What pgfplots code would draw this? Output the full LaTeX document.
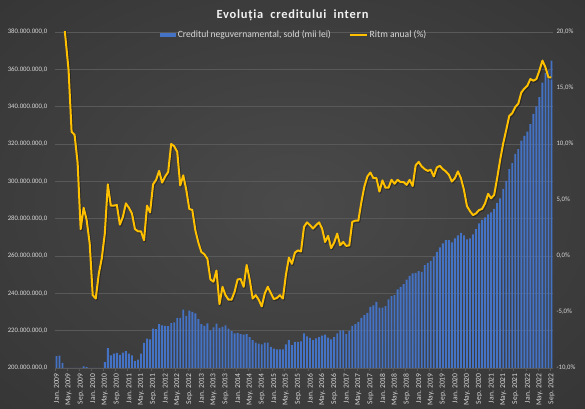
\documentclass[border=0pt]{standalone}
\usepackage{pgfplots}
\usepackage{pgfplotstable}
\pgfplotsset{compat=1.18}
\usepackage{fontspec}
\setmainfont{Carlito}
\newfontfamily\titlefont[LetterSpace=6]{Carlito}
\definecolor{barblue}{HTML}{4472C4}
\definecolor{lineyellow}{HTML}{FFC000}
\definecolor{gridgray}{HTML}{595959}
\definecolor{labelgray}{HTML}{D9D9D9}
\definecolor{titlecol}{HTML}{F2F2F2}
\definecolor{bgin}{HTML}{4A4A4A}
\definecolor{bgout}{HTML}{282828}
\pgfdeclareradialshading{bgshade}{\pgfpoint{0bp}{0bp}}{color(0bp)=(bgin); color(60bp)=(bgout)}

\pgfplotstableread{
i credit ritm
0 206.3 28
1 206.6 25
2 202.7 22
3 198 19.4
4 198 16.6
5 198 11.1
6 198 10.8
7 198 8.3
8 198 2.4
9 200.9 4.3
10 200.5 3.2
11 198 1.1
12 198 -3.5
13 198 -3.8
14 198 -1.6
15 198 -0.2
16 203.2 2.0
17 210.7 6.4
18 206.8 4.5
19 207.7 4.5
20 208.1 4.55
21 207.0 2.8
22 208.3 3.5
23 209.1 4.7
24 207.7 4.3
25 206.8 3.8
26 203.8 2.4
27 204.5 2.2
28 207.7 2.2
29 213.4 1.4
30 215.8 4.5
31 215.4 3.9
32 221.1 6.4
33 220.8 6.8
34 223.5 7.6
35 222.9 6.55
36 222.5 7.1
37 222.4 7.5
38 224.1 10.0
39 224.5 9.8
40 226.8 9.3
41 226.8 6.3
42 231.3 7.2
43 227.9 5.9
44 230.8 4.2
45 230.1 4.1
46 229.2 2.3
47 226.2 1.2
48 223.5 0.35
49 222.5 0.15
50 223.9 -0.25
51 220.2 -2.1
52 221.7 -2.3
53 223.8 -1.3
54 221.5 -4.3
55 222.0 -2.75
56 222.9 -3.5
57 221.1 -3.9
58 219.7 -3.9
59 218.5 -3.2
60 218.8 -2.1
61 218.1 -2.05
62 217.9 -2.75
63 218.1 -0.8
64 216.6 -2.1
65 214.9 -3.8
66 213.6 -3.5
67 213.1 -3.9
68 212.6 -4.5
69 213.6 -3.35
70 213.6 -2.75
71 211.3 -3.3
72 210.4 -3.85
73 210.0 -3.75
74 210.0 -3.5
75 210.0 -3.8
76 212.7 -1.7
77 214.9 -0.15
78 212.2 -0.7
79 214.0 0.3
80 214.0 0.5
81 214.2 0.4
82 218.5 2.6
83 217.0 3.0
84 216.1 2.75
85 214.9 2.45
86 215.9 2.75
87 216.6 3.0
88 217.4 2.45
89 217.9 1.25
90 216.3 1.8
91 215.4 0.7
92 216.6 1.2
93 218.5 2.0
94 220.2 0.95
95 220.2 1.25
96 218.1 0.9
97 219.9 0.95
98 222.5 3.05
99 223.5 3.15
100 224.7 3.15
101 226.8 4.8
102 228.3 6.2
103 229.5 7.1
104 232.7 7.45
105 233.6 6.95
106 235.4 6.95
107 232.4 5.75
108 232.4 6.75
109 233.1 6.1
110 236.7 6.1
111 238.5 6.8
112 239.0 6.45
113 242.1 6.8
114 243.5 6.6
115 244.9 6.6
116 247.4 6.35
117 249.4 6.8
118 250.7 6.25
119 251.0 8.1
120 251.9 8.4
121 251.5 8.0
122 255.1 7.75
123 256.3 7.6
124 257.4 7.7
125 259.6 7.1
126 262.2 7.9
127 264.6 8.05
128 266.8 7.75
129 268.5 7.55
130 268.5 7.25
131 267.3 6.65
132 269.4 6.95
133 271.0 7.55
134 272.4 6.95
135 271.0 5.9
136 268.9 4.45
137 269.4 4.0
138 271.6 3.65
139 274.4 3.8
140 277.5 4.1
141 279.3 4.2
142 280.7 4.7
143 282.3 5.55
144 283.4 5.15
145 285.2 5.45
146 288.5 6.95
147 290.9 8.6
148 295.9 10.05
149 300.3 11.25
150 306.5 12.5
151 309.7 12.75
152 314.7 13.3
153 317.2 13.6
154 321.8 14.6
155 324.3 14.95
156 326.6 15.2
157 330.6 15.8
158 336.1 15.65
159 340.1 15.8
160 345.1 16.55
161 352.9 17.45
162 358.0 16.85
163 359.4 15.95
164 364.6 15.95
}\data

\begin{document}
\begin{tikzpicture}
\useasboundingbox (0,0) rectangle (585bp,409bp);
\shade[shading=bgshade] (0,0) rectangle (585bp,409bp);
\node[font=\titlefont\bfseries\fontsize{12.5}{15}\selectfont, text=titlecol] at (292.5bp,394bp) {Evoluția\ \ creditului\ \ intern};

\begin{axis}[
  at={(55bp,41bp)}, anchor=south west,
  width=498bp, height=336bp, scale only axis,
  xmin=-0.5, xmax=164.5, ymin=200, ymax=380,
  separate axis lines,
  axis x line*=bottom, axis y line*=left,
  x axis line style={draw=gridgray, line width=0.6bp},
  y axis line style={draw=none},
  ytick={200,220,...,380},
  yticklabels={200.000.000{,}0,220.000.000{,}0,240.000.000{,}0,260.000.000{,}0,280.000.000{,}0,300.000.000{,}0,320.000.000{,}0,340.000.000{,}0,360.000.000{,}0,380.000.000{,}0},
  ymajorgrids, grid style={draw=gridgray, line width=0.6bp},
  major y tick style={draw=none},
  xtick={0,4,...,164},
  xticklabels={Jan. 2009,May. 2009,Sep. 2009,Jan. 2010,May. 2010,Sep. 2010,Jan. 2011,May. 2011,Sep. 2011,Jan. 2012,May. 2012,Sep. 2012,Jan. 2013,May. 2013,Sep. 2013,Jan. 2014,May. 2014,Sep. 2014,Jan. 2015,May. 2015,Sep. 2015,Jan. 2016,May. 2016,Sep. 2016,Jan. 2017,May. 2017,Sep. 2017,Jan. 2018,May. 2018,Sep. 2018,Jan. 2019,May. 2019,Sep. 2019,Jan. 2020,May. 2020,Sep. 2020,Jan. 2021,May. 2021,Sep. 2021,Jan. 2022,May. 2022,Sep. 2022},
  minor xtick={-0.5,3.5,...,164.5},
  tick align=outside,
  major x tick style={draw=none},
  minor x tick style={draw=gridgray, line width=0.6bp},
  minor tick length=3bp,
  xticklabel style={rotate=90, anchor=east, font=\fontsize{7.6}{8}\selectfont, text=labelgray, inner sep=1bp},
  yticklabel style={font=\fontsize{6.8}{8}\selectfont, text=labelgray},
  legend style={at={(0.48,0.991)}, anchor=center, draw=none, fill=none, font=\fontsize{9.6}{10}\selectfont, text=labelgray, legend columns=2, inner sep=0pt, /tikz/every even column/.append style={column sep=16bp}},
  clip=true,
]
\addplot[ybar, bar width=1.9bp, fill=barblue, draw=none,
  legend image code/.code={\fill[barblue] (0bp,-2.2bp) rectangle (16bp,2.2bp);}]
  table[x=i, y=credit] {\data};
\addlegendentry{Creditul neguvernamental, sold (mii lei)}
\addlegendimage{legend image code/.code={\draw[lineyellow, line width=1.8bp] (0bp,0bp) -- (17bp,0bp);}}
\addlegendentry{Ritm anual (\%)}
\end{axis}

\begin{axis}[
  at={(55bp,41bp)}, anchor=south west,
  width=498bp, height=336bp, scale only axis,
  xmin=-0.5, xmax=164.5, ymin=-10, ymax=20,
  axis x line=none, axis y line*=right,
  y axis line style={draw=none},
  ytick={-10,-5,...,20},
  yticklabels={{-10,0\%},{-5,0\%},{0,0\%},{5,0\%},{10,0\%},{15,0\%},{20,0\%}},
  major y tick style={draw=none},
  yticklabel style={font=\fontsize{6.8}{8}\selectfont, text=labelgray},
  clip=true,
]
\addplot[black, opacity=0.35, line width=2.4bp, line join=round, transform canvas={shift={(0.8bp,-1bp)}}] table[x=i, y=ritm] {\data};
\addplot[lineyellow, line width=2bp, line join=round] table[x=i, y=ritm] {\data};
\end{axis}
\end{tikzpicture}
\end{document}
